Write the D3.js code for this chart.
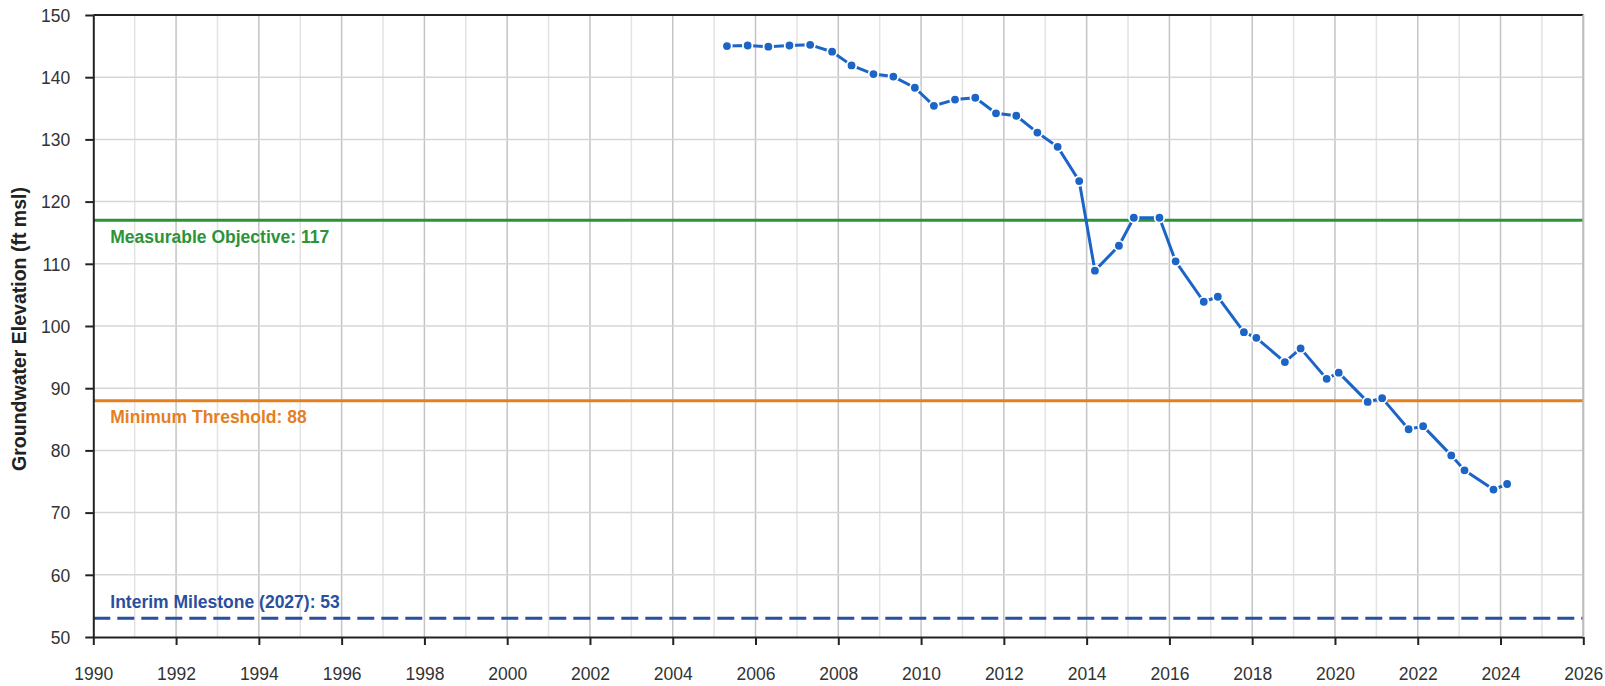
<!DOCTYPE html>
<html>
<head>
<meta charset="utf-8">
<script src="https://cdn.jsdelivr.net/npm/d3@7"></script>
<style>
  html, body { margin: 0; padding: 0; background: #fff; }
  svg { display: block; }
</style>
</head>
<body>
<svg id="chart" width="1605" height="686"></svg>
<script>
// ---- data ----
const sampleYears = [2005.31, 2005.81, 2006.31, 2006.82, 2007.32, 2007.85, 2008.32, 2008.85, 2009.33, 2009.85,
  2010.31, 2010.82, 2011.31, 2011.81, 2012.30, 2012.81, 2013.30, 2013.82, 2014.20, 2014.78,
  2015.14, 2015.76, 2016.15, 2016.83, 2017.17, 2017.80, 2018.10, 2018.79, 2019.17, 2019.80,
  2020.09, 2020.79, 2021.14, 2021.78, 2022.13, 2022.81, 2023.13, 2023.83, 2024.16];
const elevations = [145.0, 145.1, 144.9, 145.1, 145.2, 144.1, 141.9, 140.5, 140.1, 138.3,
  135.4, 136.4, 136.7, 134.2, 133.8, 131.1, 128.8, 123.3, 108.9, 112.9,
  117.4, 117.4, 110.4, 103.9, 104.7, 99.0, 98.1, 94.2, 96.4, 91.5,
  92.5, 87.8, 88.4, 83.4, 83.9, 79.2, 76.8, 73.7, 74.6];
const thresholdNames = ["Measurable Objective: 117", "Minimum Threshold: 88", "Interim Milestone (2027): 53"];
const thresholdValues = [117, 88, 53];
const xTickYears = [1990, 1992, 1994, 1996, 1998, 2000, 2002, 2004, 2006, 2008, 2010, 2012, 2014, 2016, 2018, 2020, 2022, 2024, 2026];
const yTickValues = [50, 60, 70, 80, 90, 100, 110, 120, 130, 140, 150];
const yAxisTitle = "Groundwater Elevation (ft msl)";

// ---- layout ----
const W = 1605, H = 686;
const m = {left: 93.3, right: 21.7, top: 15, bottom: 49};
const svg = d3.select("#chart");
const x = d3.scaleLinear().domain([1990, 2026]).range([m.left, W - m.right]);
const y = d3.scaleLinear().domain([50, 150]).range([H - m.bottom, m.top]);
const font = "'Liberation Sans', Arial, Helvetica, sans-serif";

const g = svg.append("g");

// minor vertical grid (odd years)
g.append("g").selectAll("line").data(d3.range(1991, 2026, 2)).join("line")
  .attr("x1", d => x(d)).attr("x2", d => x(d))
  .attr("y1", y(150)).attr("y2", y(50))
  .attr("stroke", "#e3e3e3").attr("stroke-width", 1.5);
// major vertical grid
g.append("g").selectAll("line").data(xTickYears.slice(1)).join("line")
  .attr("x1", d => x(d)).attr("x2", d => x(d))
  .attr("y1", y(150)).attr("y2", y(50))
  .attr("stroke", "#c4c4c4").attr("stroke-width", 1.5);
// horizontal grid
g.append("g").selectAll("line").data(yTickValues.slice(1, -1)).join("line")
  .attr("x1", x(1990)).attr("x2", x(2026))
  .attr("y1", d => y(d)).attr("y2", d => y(d))
  .attr("stroke", "#d6d6d6").attr("stroke-width", 1.5);

// top border
g.append("line").attr("x1", x(1990)).attr("x2", x(2026)).attr("y1", y(150)).attr("y2", y(150))
  .attr("stroke", "#222").attr("stroke-width", 2);

// threshold lines
const thColors = ["#2b9338", "#e5801f", "#2a4f9e"];
const thDash = [null, null, "17,7"];
thresholdValues.forEach((v, i) => {
  g.append("line")
    .attr("x1", x(1990)).attr("x2", x(2026))
    .attr("y1", y(v)).attr("y2", y(v))
    .attr("stroke", thColors[i]).attr("stroke-width", 3)
    .attr("stroke-dasharray", thDash[i]);
});
const labelOffsets = [23, 22, -10];
thresholdValues.forEach((v, i) => {
  g.append("text")
    .attr("x", x(1990) + 17).attr("y", y(v) + labelOffsets[i])
    .attr("fill", thColors[i])
    .attr("font-family", font)
    .attr("font-weight", "bold").attr("font-size", 17.5)
    .text(thresholdNames[i]);
});

// data line
const pts = sampleYears.map((d, i) => ({yr: d, v: elevations[i]}));
const line = d3.line().x(d => x(d.yr)).y(d => y(d.v));
g.append("path").datum(pts).attr("d", line)
  .attr("fill", "none").attr("stroke", "#1c64c6").attr("stroke-width", 3)
  .attr("stroke-linejoin", "round");
g.append("g").selectAll("circle").data(pts).join("circle")
  .attr("cx", d => x(d.yr)).attr("cy", d => y(d.v)).attr("r", 4.8)
  .attr("fill", "#1c64c6").attr("stroke", "#fff").attr("stroke-width", 1.8);

// axes
const xAxis = d3.axisBottom(x).tickValues(xTickYears).tickFormat(d3.format("d"))
  .tickSizeInner(8).tickSizeOuter(0).tickPadding(23);
const xg = svg.append("g").attr("transform", `translate(0,${y(50)})`).call(xAxis);
xg.select(".domain").attr("stroke", "#222").attr("stroke-width", 2);
xg.selectAll(".tick line").attr("stroke", "#222").attr("stroke-width", 2);
xg.selectAll("text").attr("font-family", font)
  .attr("font-size", 17.5).attr("fill", "#333");

const yAxis = d3.axisLeft(y).tickValues(yTickValues).tickFormat(d3.format("d"))
  .tickSizeInner(8).tickSizeOuter(0).tickPadding(15);
const yg = svg.append("g").attr("transform", `translate(${x(1990)},0)`).call(yAxis);
yg.select(".domain").attr("stroke", "#222").attr("stroke-width", 2);
yg.selectAll(".tick line").attr("stroke", "#222").attr("stroke-width", 2);
yg.selectAll("text").attr("font-family", font)
  .attr("font-size", 17.5).attr("fill", "#333").attr("dy", "0.36em");

// right border (gray)
svg.append("line").attr("x1", x(2026)).attr("x2", x(2026)).attr("y1", y(150)).attr("y2", y(50))
  .attr("stroke", "#bdbdbd").attr("stroke-width", 2);

// y axis title
svg.append("text")
  .attr("transform", `translate(26,${(y(50) + y(150)) / 2 + 3}) rotate(-90)`)
  .attr("text-anchor", "middle")
  .attr("font-family", font)
  .attr("font-weight", "bold").attr("font-size", 19.5).attr("fill", "#222")
  .text(yAxisTitle);
</script>
</body>
</html>
